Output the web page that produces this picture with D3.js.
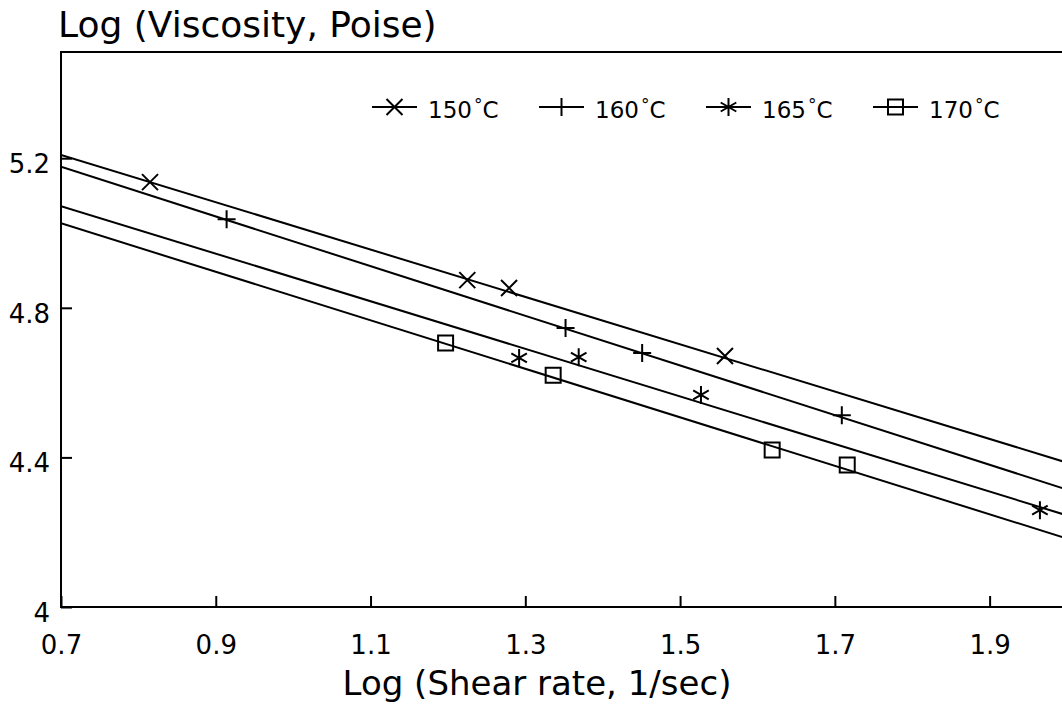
<!DOCTYPE html>
<meta charset="utf-8">
<style>
  body { margin: 0; background: #fff; }
  text { font-family: "DejaVu Sans", sans-serif; fill: #000; }
</style>
<body>
<script src="https://cdn.jsdelivr.net/npm/d3@7"></script>
<script>

// Tick values on both axes
var xTicks = [0.7, 0.9, 1.1, 1.3, 1.5, 1.7, 1.9];
var yTicks = [4, 4.4, 4.8, 5.2];

// Temperatures (legend) and measured points, log shear rate vs log viscosity
var temps = ["150", "160", "165", "170"];

var shear150 = [0.815, 1.225, 1.279, 1.558];
var visc150  = [5.136, 4.874, 4.853, 4.671];

var shear160 = [0.914, 1.352, 1.451, 1.709];
var visc160  = [5.037, 4.746, 4.679, 4.513];

var shear165 = [1.292, 1.369, 1.527, 1.965];
var visc165  = [4.666, 4.668, 4.567, 4.259];

var shear170 = [1.197, 1.336, 1.619, 1.716];
var visc170  = [4.706, 4.620, 4.420, 4.380];

// Fitted lines, values at the two ends of the x range
var fitShear = [0.7, 2.0];
var fit150 = [5.209, 4.386];
var fit160 = [5.177, 4.314];
var fit165 = [5.072, 4.245];
var fit170 = [5.026, 4.183];

var svgW = 1062, svgH = 713;
var plotL = 61, plotT = 52, plotR = 1067, plotB = 607;

var x = d3.scaleLinear().domain([0.7, 2.0]).range([plotL, plotR]);
var y = d3.scaleLinear().domain([4, 5.484]).range([plotB, plotT]);

var svg = d3.select("body").append("svg")
    .attr("width", svgW)
    .attr("height", svgH);

// Symbols drawn with strokes, size = half width
var symX = { draw: function(c, r) { c.moveTo(-r, -r); c.lineTo(r, r); c.moveTo(-r, r); c.lineTo(r, -r); } };
var symPlus = { draw: function(c, r) { c.moveTo(0, -r); c.lineTo(0, r); c.moveTo(-r, 0); c.lineTo(r, 0); } };
var symStar = { draw: function(c, r) {
  var t = r / 2, u = t * Math.sqrt(3);
  c.moveTo(0, -r); c.lineTo(0, r);
  c.moveTo(-u, -t); c.lineTo(u, t);
  c.moveTo(-u, t); c.lineTo(u, -t);
} };
var symSquare = { draw: function(c, r) { c.rect(-r, -r, 2 * r, 2 * r); } };

var series = [
  { t: temps[0], xs: shear150, ys: visc150, fit: fit150, type: symX, size: 8 },
  { t: temps[1], xs: shear160, ys: visc160, fit: fit160, type: symPlus, size: 9 },
  { t: temps[2], xs: shear165, ys: visc165, fit: fit165, type: symStar, size: 9 },
  { t: temps[3], xs: shear170, ys: visc170, fit: fit170, type: symSquare, size: 7.5 }
];

// Clip for the plot area
svg.append("clipPath").attr("id", "plot")
  .append("rect").attr("x", plotL).attr("y", plotT)
  .attr("width", plotR - plotL).attr("height", plotB - plotT);

var plot = svg.append("g").attr("clip-path", "url(#plot)");

var line = d3.line()
    .x(function(d) { return x(d[0]); })
    .y(function(d) { return y(d[1]); });

series.forEach(function(s) {
  plot.append("path")
      .datum(fitShear.map(function(v, i) { return [v, s.fit[i]]; }))
      .attr("d", line)
      .attr("fill", "none")
      .attr("stroke", "#000")
      .attr("stroke-width", 2);

  plot.selectAll(null)
      .data(s.xs.map(function(v, i) { return [v, s.ys[i]]; }))
    .enter().append("path")
      .attr("transform", function(d) { return "translate(" + x(d[0]) + "," + y(d[1]) + ")"; })
      .attr("d", d3.symbol().type(s.type).size(s.size))
      .attr("fill", "none")
      .attr("stroke", "#000")
      .attr("stroke-width", 2);
});

// Frame
svg.append("path")
    .attr("d", "M" + plotR + "," + plotT + "H" + plotL + "V" + plotB + "H" + plotR)
    .attr("fill", "none")
    .attr("stroke", "#000")
    .attr("stroke-width", 2);

// Axes, ticks pointing inwards
var xAxis = svg.append("g")
    .attr("transform", "translate(0," + plotB + ")")
    .call(d3.axisBottom(x)
      .tickValues(xTicks)
      .tickSizeInner(-11)
      .tickSizeOuter(0)
      .tickPadding(29)
      .tickFormat(d3.format(".1f")));

var yAxis = svg.append("g")
    .attr("transform", "translate(" + plotL + ",0)")
    .call(d3.axisLeft(y)
      .tickValues(yTicks)
      .tickSizeInner(-11)
      .tickSizeOuter(0)
      .tickPadding(11)
      .tickFormat(function(d) { return String(d); }));

[xAxis, yAxis].forEach(function(a) {
  a.select(".domain").remove();
  a.selectAll("line").attr("stroke", "#000").attr("stroke-width", 2);
  a.selectAll("text").style("font-size", "26px").attr("font-family", null);
});
yAxis.selectAll("text").attr("dy", "0.55em");

// Axis titles
svg.append("text")
    .attr("x", 58)
    .attr("y", 37)
    .style("font-size", "36px")
    .text("Log (Viscosity, Poise)");

svg.append("text")
    .attr("x", 537)
    .attr("y", 695)
    .attr("text-anchor", "middle")
    .style("font-size", "34px")
    .text("Log (Shear rate, 1/sec)");

// Legend
var legend = svg.append("g");
series.forEach(function(s, i) {
  var x0 = 372 + i * 167, ly = 107;
  var g = legend.append("g");
  g.append("line")
      .attr("x1", x0).attr("x2", x0 + 45)
      .attr("y1", ly).attr("y2", ly)
      .attr("stroke", "#000").attr("stroke-width", 2);
  g.append("path")
      .attr("transform", "translate(" + (x0 + 22.5) + "," + ly + ")")
      .attr("d", d3.symbol().type(s.type).size(s.size))
      .attr("fill", "none").attr("stroke", "#000").attr("stroke-width", 2);
  var t = g.append("text")
      .attr("x", x0 + 56)
      .attr("y", 118)
      .style("font-size", "23px");
  t.append("tspan").text(s.t);
  t.append("tspan").attr("dx", 2).attr("dy", -7).style("font-size", "17px").text("°");
  t.append("tspan").attr("dy", 7).text("C");
});

</script>
</body>
